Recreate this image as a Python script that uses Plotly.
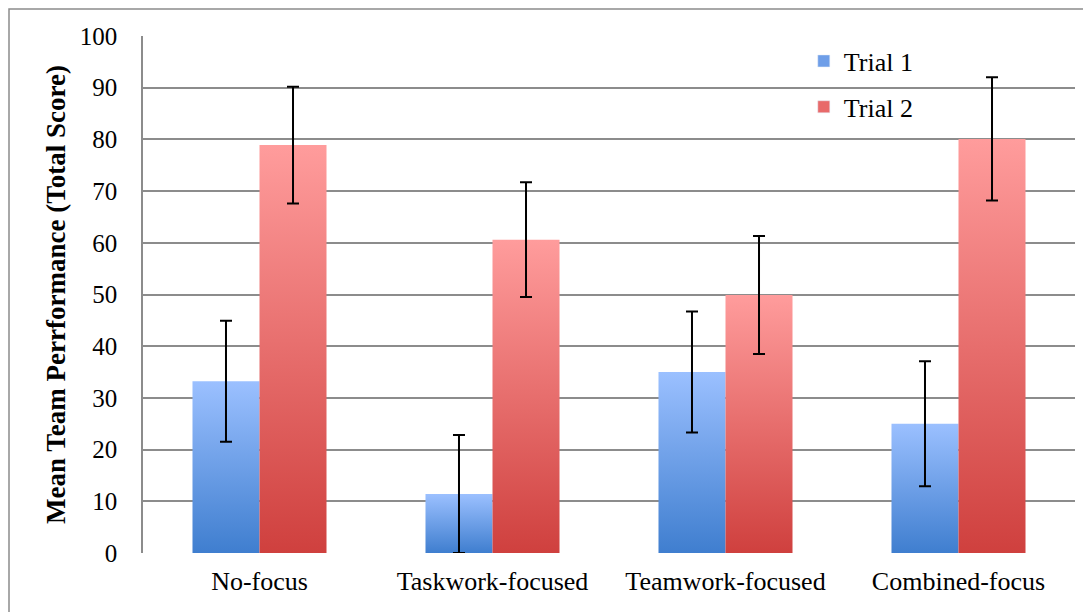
import plotly.graph_objects as go

categories = ["No-focus", "Taskwork-focused", "Teamwork-focused", "Combined-focus"]
trial1 = [33.2, 11.4, 35.0, 25.0]
trial1_err = [11.7, 11.4, 11.7, 12.1]
trial2 = [78.9, 60.6, 49.9, 80.1]
trial2_err = [11.3, 11.1, 11.4, 11.9]
series_names = ["Trial 1", "Trial 2"]
y_ticks = [0, 10, 20, 30, 40, 50, 60, 70, 80, 90, 100]

FONT = "Liberation Serif"
BAR_W = 0.2876
series = [
    (trial1, trial1_err, -BAR_W / 2, ("#3f7ecf", "#9bc0ff"), "#6e9ee8"),
    (trial2, trial2_err, BAR_W / 2, ("#cf403e", "#ff9c9c"), "#e86a6a"),
]

fig = go.Figure()

for si, (vals, errs, offset, (dark, light), mid) in enumerate(series):
    for ci, v in enumerate(vals):
        cx = ci + offset
        x0, x1 = cx - BAR_W / 2, cx + BAR_W / 2
        fig.add_trace(go.Scatter(
            x=[x0, x0, x1, x1, x0], y=[0, v, v, 0, 0],
            mode="lines", line=dict(width=0), fill="toself",
            fillgradient=dict(type="vertical", colorscale=[[0, dark], [1, light]],
                              start=0, stop=v),
            showlegend=False, hoverinfo="skip",
        ))
    # error bars
    fig.add_trace(go.Scatter(
        x=[ci + offset for ci in range(len(vals))], y=vals, mode="markers",
        marker=dict(size=1, opacity=0),
        error_y=dict(type="data", array=errs, visible=True, color="black",
                     thickness=2, width=6),
        showlegend=False, hoverinfo="skip",
    ))
    # legend entry
    fig.add_trace(go.Bar(
        x=[None], y=[None], name=series_names[si], marker=dict(color=mid),
        legendgroup=series_names[si], showlegend=True,
    ))

# page has an 8px body margin, so the figure is sized/offset to compensate
fig.update_layout(
    width=1083, height=604,
    margin=dict(l=135, r=16, t=28, b=59),
    paper_bgcolor="white", plot_bgcolor="white",
    font=dict(family=FONT, size=20, color="black"),
    showlegend=True,
    legend=dict(x=0.709, y=0.997, xanchor="left", yanchor="top",
                bgcolor="rgba(0,0,0,0)", tracegroupgap=9,
                font=dict(family=FONT, size=26, color="black"),
                itemwidth=30),
    xaxis=dict(range=[-0.5, 3.5], tickvals=list(range(len(categories))),
               ticktext=categories, showgrid=False, zeroline=False,
               showline=False, ticks="", tickfont=dict(size=26),
               ticklabelstandoff=10),
    yaxis=dict(range=[0, 100], tickvals=y_ticks, showgrid=True,
               gridcolor="#8c8c8c", gridwidth=1.5, zeroline=False,
               showline=True, linecolor="#8c8c8c", linewidth=1.5,
               ticks="", tickfont=dict(size=25), ticklabelstandoff=19,
               title=dict(text="<b>Mean Team Perrformance (Total Score)</b>",
                          font=dict(size=27), standoff=6)),
    shapes=[dict(type="rect", xref="paper", yref="paper",
                 x0=(1 - 135) / 932, x1=1.05, y0=-0.2, y1=1 + (28 - 1) / 517,
                 line=dict(color="#8c8c8c", width=1.5), layer="below")],
)

fig.write_html("out.html")
